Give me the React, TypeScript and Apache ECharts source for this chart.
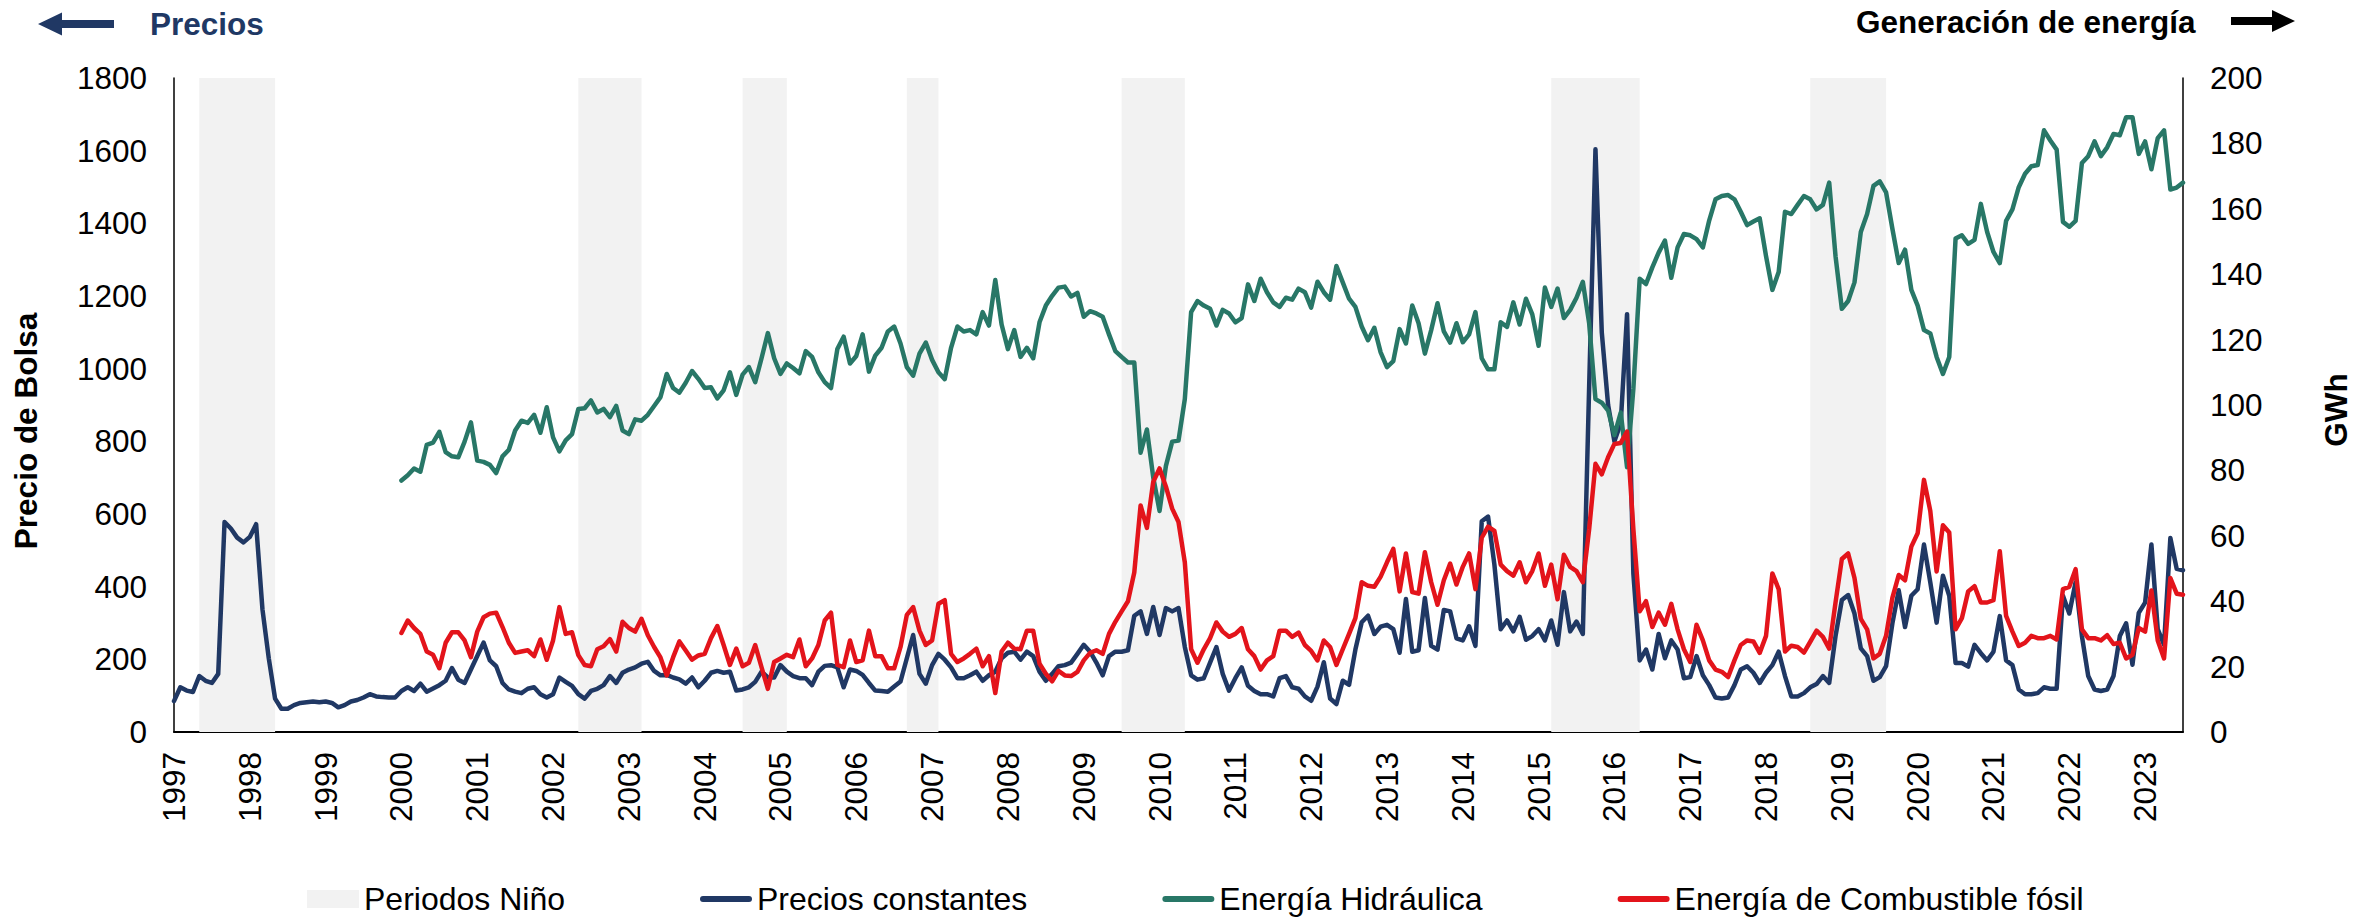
import React, { useEffect, useRef } from "react";
import * as echarts from "echarts";

const FONT = "'Liberation Sans', Arial, sans-serif";
const FS = 31.5;
const LEGEND_FS = 32;

const firstYear = 1997;
const lastYear = 2023;
const monthCount = 319; // 1997-01 .. 2023-07

const months: string[] = [];
for (let y = firstYear; y <= lastYear; y++) {
  for (let m = 1; m <= 12; m++) months.push(`${y}-${String(m).padStart(2, "0")}`);
}
const categories = months.slice(0, monthCount);

const ninoStart = ["1997-05", "2002-05", "2004-07", "2006-09", "2009-07", "2015-03", "2018-08"];
const ninoEnd = ["1998-05", "2003-03", "2005-02", "2007-02", "2010-05", "2016-05", "2019-08"];

// Precio de Bolsa (precios constantes), 1997-01 .. 2023-07
const precios: number[] = [
  85, 123, 114, 110, 154, 141, 135, 160, 578, 560, 535, 522, 537, 572, 338, 203, 92, 64, 64, 74, 80, 82, 84, 82,
  84, 80, 68, 74, 84, 88, 95, 104, 98, 96, 95, 95,
  113, 123, 113, 133, 111, 120, 129, 141, 176, 144, 135, 172, 209, 246, 197, 181, 135, 117, 111, 107, 119, 123, 104, 95,
  104, 150, 138, 127, 104, 92, 113, 119, 129, 154, 135, 163, 172, 178, 188, 193, 168, 156, 157, 150, 145, 133, 150, 123,
  141, 163, 168, 163, 166, 114, 117, 123, 138, 166, 150, 150, 184, 166, 154, 148, 148, 129, 166, 182, 184, 178, 123, 172,
  168, 157, 135, 114, 113, 111, 125, 139, 203, 267, 160, 133, 184, 215, 199, 178, 148, 148, 156, 166, 141, 156, 166, 203,
  218, 221, 199, 221, 209, 166, 141, 160, 181, 184, 191, 215, 240, 221, 191, 156, 209, 221, 221, 225, 320, 332, 270, 344,
  267, 341, 332, 341, 234, 156, 144, 148, 191, 234, 160, 114, 148, 178, 127, 113, 104, 104, 98, 148, 154, 123, 119, 98,
  86, 125, 192, 92, 77, 141, 130, 227, 302, 320, 270, 290, 295, 283, 218, 366, 221, 225, 369, 237, 227, 336, 332, 258,
  252, 291, 237, 580, 593, 461, 283, 307, 277, 317, 254, 264, 283, 252, 307, 240, 385, 277, 304, 270, 950, 1604, 1100, 900,
  800, 850, 1150, 436, 197, 227, 172, 270, 203, 252, 227, 148, 151, 209, 156, 129, 95, 92, 95, 129, 172, 181, 163, 135,
  163, 184, 221, 154, 98, 98, 107, 123, 132, 154, 135, 264, 363, 377, 326, 230, 209, 141, 151, 181, 299, 390, 289, 375,
  393, 516, 412, 301, 430, 375, 190, 190, 180, 240, 217, 197, 221, 319, 197, 184, 117, 104, 104, 107, 123, 119, 119, 375,
  326, 412, 264, 154, 117, 113, 117, 154, 264, 299, 185, 328, 356, 516, 283, 240, 534, 449, 445,
];

// Energía Hidráulica (GWh), 2000-01 .. 2023-07
const hidraulica: number[] = [
  76.9, 78.5, 80.6, 79.6, 87.8, 88.5, 91.8, 85.6, 84.3, 84.0, 88.8, 94.7, 83.0, 82.6, 81.7, 79.2, 84.3, 86.3, 92.2, 95.2, 94.5, 97.0, 91.5, 99.3,
  90.1, 85.8, 89.2, 91.1, 98.8, 99.0, 101.4, 97.7, 98.8, 96.3, 99.7, 92.2, 91.1, 95.6, 95.2, 97.0, 99.7, 102.4, 109.5, 105.2, 103.8, 106.8, 110.4, 108,
  105.2, 105.4, 102.0, 104.5, 110.0, 103.1, 109.3, 111.6, 107.0, 114.3, 122.0, 114.3, 109.5, 112.7, 111.3, 109.7, 116.5, 114.7, 110.0, 107.0, 105.2, 117.1, 120.9, 112.7,
  115.0, 121.6, 110.2, 115.1, 117.5, 122.5, 124.0, 118.8, 111.6, 109.0, 115.7, 119.1, 113.8, 110.0, 107.9, 117.5, 124.0, 122.5, 122.9, 121.6, 128.4, 124.3, 138.2, 124.6,
  117.1, 122.9, 114.7, 117.5, 114.3, 125.3, 130.4, 133.4, 135.9, 136.2, 133.2, 134.3, 127.0, 128.7, 128.0, 127.0, 121.6, 116.5, 114.7, 113.0, 113.0, 85.4, 92.5, 77.9,
  67.6, 81.3, 88.8, 89.1, 101.8, 128.4, 131.8, 130.4, 129.4, 124.3, 129.1, 128.0, 125.3, 126.6, 136.9, 131.8, 138.6, 134.5, 131.4, 130.0, 132.8, 132.2, 135.6, 134.5,
  129.8, 137.7, 134.5, 132.2, 142.5, 137.5, 132.5, 130.0, 124.0, 119.8, 123.6, 116.1, 111.6, 113.4, 123.2, 118.8, 130.4, 125.0, 115.7, 122.9, 131.1, 122.5, 119.1, 125.0,
  119.2, 121.6, 128.4, 114.3, 110.9, 110.9, 125.3, 123.9, 131.4, 124.6, 132.5, 127.7, 118.1, 135.9, 130.0, 135.6, 126.6, 129.1, 132.8, 137.7, 125.0, 101.8, 100.7, 98.3,
  90.8, 97.7, 81.0, 105, 138.6, 137.0, 142.1, 146.6, 150.3, 138.9, 148.2, 152.3, 151.9, 150.7, 148.2, 156.4, 162.9, 163.9, 164.2, 162.9, 159.1, 155.0, 156.1, 157.1,
  145.5, 135.2, 140.7, 159.1, 158.4, 161.2, 163.9, 162.9, 159.8, 161.2, 168.0, 145.5, 129.4, 131.8, 137.5, 152.9, 158.4, 167.0, 168.4, 165.0, 153.9, 143.4, 147.5, 135.2,
  130.4, 122.9, 121.9, 114.7, 109.5, 114.7, 150.9, 151.9, 149.3, 150.5, 161.5, 152.9, 146.8, 143.4, 156.3, 159.8, 166.6, 170.7, 173.0, 173.4, 184.0, 180.9, 178.1, 156.0,
  154.5, 156.3, 174.0, 176.1, 180.6, 176.1, 178.8, 182.9, 182.5, 188.0, 188.0, 176.8, 180.6, 172.1, 181.6, 184.0, 165.9, 166.5, 168,
];

// Energía de Combustible fósil (GWh), 2000-01 .. 2023-07
const fosil: number[] = [
  30.3, 34.1, 31.8, 30.0, 24.6, 23.6, 19.5, 27.3, 30.5, 30.5, 28.0, 22.9, 30.7, 35.1, 36.2, 36.5, 32.1, 27.3, 24.2, 24.6, 25.0, 23.2, 28.3, 22.1,
  28.0, 38.2, 30.0, 30.5, 23.5, 20.5, 20.1, 25.3, 26.2, 28.4, 24.6, 33.7, 31.8, 30.7, 34.6, 29.6, 26.0, 22.8, 17.3, 22.8, 27.7, 24.9, 22.1, 23.4,
  23.9, 28.7, 32.4, 26.6, 20.5, 25.5, 20.1, 21.2, 26.6, 19.8, 13.2, 21.4, 22.5, 23.6, 22.9, 28.3, 20.1, 22.5, 26.6, 34.1, 36.5, 20.5, 19.8, 28.0,
  21.4, 21.9, 31.0, 23.2, 23.2, 19.5, 19.5, 26.0, 35.8, 38.2, 31.0, 26.6, 28.0, 39.2, 40.3, 23.9, 21.4, 22.5, 23.9, 25.5, 20.1, 23.2, 11.9, 24.6,
  27.3, 25.5, 25.3, 31.0, 31.0, 20.9, 17.8, 15.5, 18.7, 17.3, 17.1, 18.4, 21.9, 24.2, 25.0, 23.9, 30.0, 33.7, 36.9, 40.0, 48.8, 69.3, 62.4, 76.5,
  80.6, 75.1, 68.3, 64.2, 51.9, 25.3, 21.2, 25.3, 28.7, 33.5, 30.7, 29.1, 30.0, 31.8, 25.3, 23.2, 19.1, 21.9, 23.2, 31.0, 31.0, 29.1, 30.4, 26.6,
  24.8, 21.9, 28.0, 26.0, 20.5, 25.3, 30.0, 34.8, 45.8, 44.7, 44.4, 47.5, 51.9, 56.0, 43.0, 54.6, 42.8, 42.3, 55.0, 45.8, 38.9, 46.4, 51.5, 45.1,
  50.5, 54.6, 43.7, 59.4, 62.8, 61.5, 51.2, 49.2, 47.8, 51.9, 45.8, 49.2, 54.6, 44.7, 51.2, 40.6, 54.2, 50.5, 49.2, 45.8, 62, 82.0, 78.8, 84.0,
  88.1, 88.4, 91.9, 62, 36.9, 40.0, 32.1, 36.5, 32.8, 39.2, 31.4, 25.3, 21.4, 32.8, 28.0, 21.9, 19.1, 18.4, 16.8, 21.9, 26.6, 28.0, 27.7, 24.2,
  29.4, 48.5, 43.7, 24.6, 26.4, 26.0, 24.3, 27.6, 31.0, 29.1, 25.5, 39.6, 52.9, 54.6, 47.1, 34.6, 31.4, 22.5, 23.9, 29.4, 41.0, 48.0, 46.4, 56.7,
  60.8, 77.1, 67.6, 49.1, 63.2, 61.0, 31.4, 34.8, 43.0, 44.6, 39.6, 39.6, 40.3, 55.3, 35.5, 30.7, 26.3, 27.3, 29.4, 28.7, 28.7, 29.4, 28.3, 43.7,
  44.4, 49.8, 31.4, 28.7, 28.7, 28.0, 29.6, 26.9, 27.3, 22.5, 23.6, 31.8, 30.7, 43.3, 28.0, 22.5, 47.1, 42.3, 42.0,
];

const energyStart = "2000-01";
const leftTicks = { min: 0, max: 1800, interval: 200 };
const rightTicks = { min: 0, max: 200, interval: 20 };

const C_BLUE = "#203864";
const C_GREEN = "#287767";
const C_RED = "#E3141B";
const C_NINO = "#F2F2F2";

// thick rounded bar inside a 52x18 box (extra moveTo points fix the box)
const LINE_ICON = "path://M0,0 M52,18 M3,6 L49,6 A3,3 0 0 1 49,12 L3,12 A3,3 0 0 1 3,6 Z";

function alignEnergy(values: number[]): (number | null)[] {
  const offset = categories.indexOf(energyStart);
  const out: (number | null)[] = categories.map(() => null);
  values.forEach((v, i) => {
    if (offset + i < out.length) out[offset + i] = v;
  });
  return out;
}

export default function App() {
  const ref = useRef<HTMLDivElement>(null);

  useEffect(() => {
    if (!ref.current) return;
    const chart = echarts.init(ref.current, null, { renderer: "svg" });

    const lineSeries = (name: string, data: (number | null)[], color: string, yAxisIndex: number) => ({
      name,
      type: "line",
      data,
      yAxisIndex,
      symbol: "none",
      showSymbol: false,
      connectNulls: false,
      color,
      itemStyle: { color },
      lineStyle: { width: 4.5, color, cap: "round", join: "round" },
      emphasis: { disabled: true },
      z: 3,
    });

    const option: any = {
      animation: false,
      backgroundColor: "#ffffff",
      textStyle: { fontFamily: FONT },
      grid: { left: 174, right: 188, top: 78, bottom: 185, containLabel: false },
      legend: {
        left: 307,
        top: 883,
        padding: 0,
        itemWidth: 52,
        itemHeight: 18,
        itemGap: 135,
        selectedMode: false,
        textStyle: { fontSize: LEGEND_FS, color: "#000", fontFamily: FONT },
        data: [
          { name: "Periodos Niño", icon: "rect", itemStyle: { color: C_NINO } },
          { name: "Precios constantes", icon: LINE_ICON, itemStyle: { color: C_BLUE } },
          { name: "Energía Hidráulica", icon: LINE_ICON, itemStyle: { color: C_GREEN } },
          { name: "Energía de Combustible fósil", icon: LINE_ICON, itemStyle: { color: C_RED } },
        ],
      },
      xAxis: {
        type: "category",
        data: categories,
        boundaryGap: false,
        axisLine: { show: true, lineStyle: { color: "#000", width: 2 } },
        axisTick: { show: false },
        splitLine: { show: false },
        axisLabel: {
          rotate: 90,
          interval: (idx: number) => idx % 12 === 0,
          formatter: (v: string) => v.slice(0, 4),
          fontSize: FS,
          color: "#000",
          margin: 20,
          fontFamily: FONT,
        },
      },
      yAxis: [
        {
          type: "value",
          position: "left",
          ...leftTicks,
          axisLine: { show: true, lineStyle: { color: "#000", width: 1.5 } },
          axisTick: { show: false },
          splitLine: { show: false },
          axisLabel: { fontSize: FS, color: "#000", margin: 27, fontFamily: FONT, formatter: (v: number) => String(v) },
        },
        {
          type: "value",
          position: "right",
          ...rightTicks,
          axisLine: { show: true, lineStyle: { color: "#000", width: 1.5 } },
          axisTick: { show: false },
          splitLine: { show: false },
          axisLabel: { fontSize: FS, color: "#000", margin: 27, fontFamily: FONT, formatter: (v: number) => String(v) },
        },
      ],
      series: [
        {
          name: "Periodos Niño",
          type: "line",
          data: [],
          color: C_NINO,
          itemStyle: { color: C_NINO },
          symbol: "none",
          z: 1,
          markArea: {
            silent: true,
            itemStyle: { color: C_NINO },
            data: ninoStart.map((s, i) => [{ xAxis: s }, { xAxis: ninoEnd[i] }]),
          },
        },
        lineSeries("Precios constantes", precios, C_BLUE, 0),
        lineSeries("Energía Hidráulica", alignEnergy(hidraulica), C_GREEN, 1),
        lineSeries("Energía de Combustible fósil", alignEnergy(fosil), C_RED, 1),
      ],
      graphic: [
        {
          type: "polygon",
          shape: { points: [[38, 24], [62, 12.5], [62, 20], [114, 20], [114, 28], [62, 28], [62, 35.5]] },
          style: { fill: C_BLUE },
        },
        {
          type: "text",
          x: 150,
          y: 24,
          style: { text: "Precios", fill: C_BLUE, fontSize: FS, fontWeight: "bold", fontFamily: FONT, align: "left", verticalAlign: "middle" },
        },
        {
          type: "text",
          x: 1856,
          y: 22,
          style: { text: "Generación de energía", fill: "#000", fontSize: FS, fontWeight: "bold", fontFamily: FONT, align: "left", verticalAlign: "middle" },
        },
        {
          type: "polygon",
          shape: { points: [[2231, 17], [2272, 17], [2272, 10], [2295, 21], [2272, 32], [2272, 25], [2231, 25]] },
          style: { fill: "#000" },
        },
        {
          type: "text",
          x: 26,
          y: 431,
          rotation: Math.PI / 2,
          style: { text: "Precio de Bolsa", fill: "#000", fontSize: FS, fontWeight: "bold", fontFamily: FONT, align: "center", verticalAlign: "middle" },
        },
        {
          type: "text",
          x: 2336,
          y: 410,
          rotation: Math.PI / 2,
          style: { text: "GWh", fill: "#000", fontSize: FS, fontWeight: "bold", fontFamily: FONT, align: "center", verticalAlign: "middle" },
        },
      ],
    };

    chart.setOption(option);
    return () => chart.dispose();
  }, []);

  return (
    <div
      ref={ref}
      style={{ position: "absolute", left: 0, top: 0, width: 2371, height: 917, background: "#fff" }}
    />
  );
}
